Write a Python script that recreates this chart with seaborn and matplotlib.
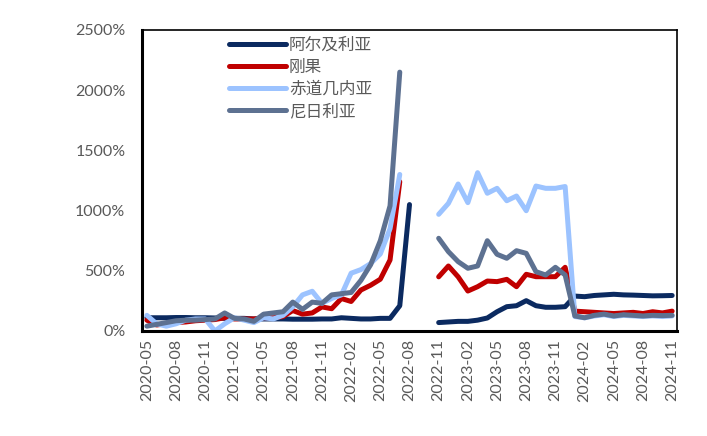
import numpy as np
import pandas as pd
import matplotlib
matplotlib.use("Agg")
import matplotlib.pyplot as plt
import seaborn as sns

months = pd.period_range("2020-05", "2024-11", freq="M").strftime("%Y-%m").tolist()
nan = np.nan

algeria = [110, 110, 110, 112, 112, 110, 110, 108, 105, 105, 105, 100, 100, 100, 100, 98, 98, 98, 100, 100,
           110, 105, 100, 100, 105, 105, 210, 1050, nan, nan,
           70, 75, 80, 80, 90, 108, 160, 202, 210, 252, 210, 197, 197, 202,
           290, 285, 295, 300, 305, 300, 298, 295, 292, 293, 295]
congo = [90, 50, 60, 70, 75, 85, 90, 95, 110, 100, 100, 100, 110, 110, 120, 170, 140, 150, 200, 185,
         270, 245, 340, 380, 430, 590, 1240, nan, nan, nan,
         450, 540, 450, 332, 368, 415, 410, 429, 368, 471, 451, 451, 451, 529,
         165, 160, 155, 150, 145, 150, 155, 145, 160, 150, 165]
eq_guinea = [130, 60, 40, 60, 90, 100, 100, 0, 60, 110, 90, 70, 110, 100, 130, 200, 300, 330, 230, 270,
             300, 480, 510, 560, 640, 850, 1300, nan, nan, nan,
             969, 1060, 1221, 1066, 1315, 1144, 1185, 1082, 1121, 999, 1204, 1185, 1185, 1200,
             120, 110, 125, 135, 120, 130, 125, 120, 125, 120, 125]
nigeria = [40, 55, 70, 85, 90, 90, 95, 100, 150, 105, 100, 80, 140, 150, 160, 240, 180, 240, 230, 300,
           310, 320, 420, 550, 750, 1040, 2150, nan, nan, nan,
           770, 659, 576, 521, 540, 750, 637, 604, 667, 645, 493, 465, 529, 465,
           125, 110, 130, 140, 125, 135, 130, 125, 130, 128, 130]

series_names = ["阿尔及利亚", "刚果", "赤道几内亚", "尼日利亚"]
series_values = [algeria, congo, eq_guinea, nigeria]
colors = ["#0B2A60", "#C00000", "#9CC3FF", "#5D7191"]

rows = []
for name, vals in zip(series_names, series_values):
    seg = 0
    prev_nan = False
    for i, (m, v) in enumerate(zip(months, vals)):
        if np.isnan(v):
            if not prev_nan:
                seg += 1
            prev_nan = True
            continue
        prev_nan = False
        rows.append({"idx": i, "month": m, "value": v, "country": name, "seg": f"{name}_{seg}"})
df = pd.DataFrame(rows)

sns.set_theme(style="white")
plt.rcParams["font.family"] = ["Lato", "Noto Sans CJK SC", "DejaVu Sans"]

fig = plt.figure(figsize=(7.07, 4.36), dpi=100)
ax = fig.add_axes([142 / 707, 1 - 331 / 436, 535 / 707, 301 / 436])

sns.lineplot(data=df, x="idx", y="value", hue="country", units="seg", estimator=None,
             hue_order=series_names, palette=colors, linewidth=3.6, ax=ax,
             solid_capstyle="round", solid_joinstyle="round", legend=True, sort=True)

ax.set_xlim(-0.5, len(months) - 0.5)
ax.set_ylim(0, 2500)
ax.set_xlabel("")
ax.set_ylabel("")

yt = [0, 500, 1000, 1500, 2000, 2500]
ax.set_yticks(yt)
ax.set_yticklabels([f"{v}%" for v in yt], color="#595959", fontsize=11.5)

lab_pos = list(range(0, len(months), 3))
ax.set_xticks(lab_pos)
ax.set_xticklabels([months[i] for i in lab_pos], rotation=90, color="#595959", fontsize=11.5)
ax.set_xticks([p - 0.5 for p in lab_pos], minor=True)
ax.tick_params(axis="x", which="major", length=0, pad=6)
ax.tick_params(axis="x", which="minor", direction="in", length=4, width=1.2, color="black")
ax.tick_params(axis="y", which="major", direction="in", length=4, width=1.2, color="black", pad=12)

for side in ["left", "bottom"]:
    ax.spines[side].set_linewidth(2.2)
    ax.spines[side].set_color("black")
for side in ["top", "right"]:
    ax.spines[side].set_linewidth(1.2)
    ax.spines[side].set_color("black")

handles, labels = ax.get_legend_handles_labels()
leg = ax.legend(handles[:4], labels[:4], loc="upper left",
                bbox_to_anchor=(229 / 707, 1 - 37 / 436), bbox_transform=fig.transFigure,
                frameon=False, fontsize=12, handlelength=3.4, handletextpad=0.2,
                labelspacing=0.36, borderpad=0, borderaxespad=0)
for t in leg.get_texts():
    t.set_color("#595959")
for h in leg.get_lines():
    h.set_linewidth(3.6)
    h.set_solid_capstyle("round")

fig.savefig("out.png", dpi=100)
